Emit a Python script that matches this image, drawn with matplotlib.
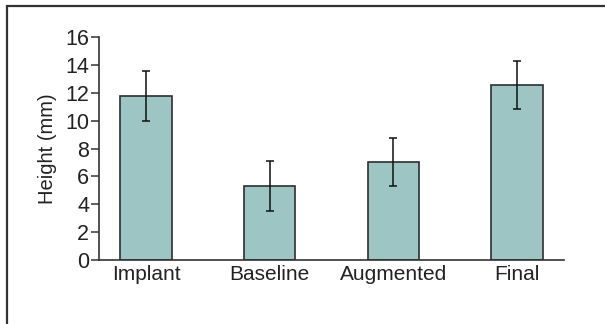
import matplotlib.pyplot as plt
from matplotlib.patches import Rectangle

# ---------------------------------- data ---------------------------------- #
groups = ["Implant", "Baseline", "Augmented", "Final"]
heights = [11.8, 5.3, 7.05, 12.55]   # mm
errors = [1.78, 1.78, 1.75, 1.72]    # mm

barColor = "#9cc5c3"
edgeColor = "#2e2e2e"
plt.rcParams["font.family"] = ["Liberation Sans", "DejaVu Sans"]

# --------------------------------- figure --------------------------------- #
fig = plt.figure(figsize=(6.05, 3.24), dpi=100)
ax = fig.add_axes([99/605, 1 - 260/324, (564 - 99)/605, (260 - 37.3)/324])

positions = list(range(len(groups)))
ax.bar(positions, heights, width=0.415, color=barColor, edgecolor=edgeColor,
       linewidth=1.2, zorder=2)
ax.errorbar(positions, heights, yerr=errors, fmt="none", ecolor="#111111",
            elinewidth=1.1, capsize=2.6, capthick=1.1, zorder=3)

ax.set_xlim(-0.38, 3.38)
ax.set_ylim(0, 16)
ax.set_yticks(range(0, 17, 2))
ax.set_xticks(positions)
ax.set_xticklabels(groups)
ax.set_ylabel("Height (mm)", fontsize=14.5, color="#222222", labelpad=6)

for side in ["top", "right"]:
    ax.spines[side].set_visible(False)
for side in ["left", "bottom"]:
    ax.spines[side].set_color("#333333")
    ax.spines[side].set_linewidth(1.2)
ax.tick_params(axis="y", length=6, width=1.1, color="#333333",
               labelsize=15.5, labelcolor="#222222", pad=1)
ax.tick_params(axis="x", length=0, labelsize=15, labelcolor="#222222", pad=3.5)

# outer frame (clipped at the right and bottom edges)
fig.patches.append(Rectangle((7/605, -0.1), 1.2, 1.1 - 6.5/324,
                             transform=fig.transFigure, fill=False,
                             edgecolor="#333333", linewidth=1.6))

fig.savefig("out.png", dpi=100)
